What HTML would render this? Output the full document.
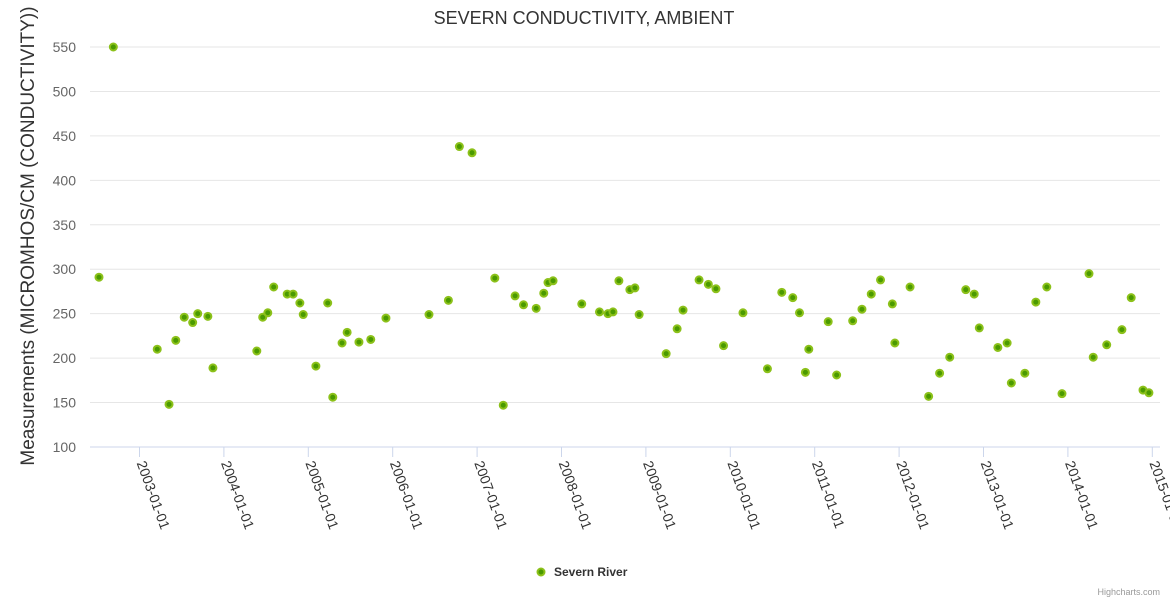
<!DOCTYPE html>
<html><head><meta charset="utf-8"><style>
body{margin:0;background:#fff;font-family:"Liberation Sans",sans-serif}
svg{display:block}
</style></head><body>
<svg id="chart" width="1170" height="600">
<rect width="1170" height="600" fill="#fff"/>
<text x="584" y="24" text-anchor="middle" font-size="18" fill="#333">SEVERN CONDUCTIVITY, AMBIENT</text>
<text transform="translate(34,236) rotate(-90)" text-anchor="middle" font-size="19" fill="#333">Measurements (MICROMHOS/CM (CONDUCTIVITY))</text>
<g id="grid"></g><g id="xaxis"></g><g id="pts"></g>
<g>
<circle cx="541" cy="572" r="3.5" fill="#4a9a00" stroke="#8cc11a" stroke-width="2"/>
<text x="554" y="576" font-size="12" font-weight="bold" fill="#333">Severn River</text>
</g>
<text x="1160" y="595" text-anchor="end" font-size="9" fill="#999">Highcharts.com</text>
</svg>
<script>
const yTicks=[100,150,200,250,300,350,400,450,500,550];
const xTickYears=[2003,2004,2005,2006,2007,2008,2009,2010,2011,2012,2013,2014,2015];
const dates=[2002.52,2002.69,2003.21,2003.35,2003.43,2003.53,2003.63,2003.69,2003.81,2003.87,2004.39,2004.46,2004.52,2004.59,2004.75,2004.82,2004.90,2004.94,2005.09,2005.23,2005.29,2005.40,2005.46,2005.60,2005.74,2005.92,2006.43,2006.66,2006.79,2006.94,2007.21,2007.31,2007.45,2007.55,2007.70,2007.79,2007.84,2007.90,2008.24,2008.45,2008.55,2008.61,2008.68,2008.81,2008.87,2008.92,2009.24,2009.37,2009.44,2009.63,2009.74,2009.83,2009.92,2010.15,2010.44,2010.61,2010.74,2010.82,2010.89,2010.93,2011.16,2011.26,2011.45,2011.56,2011.67,2011.78,2011.92,2011.95,2012.13,2012.35,2012.48,2012.60,2012.79,2012.89,2012.95,2013.17,2013.28,2013.33,2013.49,2013.62,2013.75,2013.93,2014.25,2014.30,2014.46,2014.64,2014.75,2014.89,2014.96];
const values=[291,550,210,148,220,246,240,250,247,189,208,246,251,280,272,272,262,249,191,262,156,217,229,218,221,245,249,265,438,431,290,147,270,260,256,273,285,287,261,252,250,252,287,277,279,249,205,233,254,288,283,278,214,251,188,274,268,251,184,210,241,181,242,255,272,288,261,217,280,157,183,201,277,272,234,212,217,172,183,263,280,160,295,201,215,232,268,164,161];
const NS='http://www.w3.org/2000/svg';
const X0=90,X1=1160;
function xS(t){return 139.5+(t-2003)*84.4;}
function yS(v){return 447-(v-100)*(400/450);}
function mk(tag,attrs,parent){const e=document.createElementNS(NS,tag);for(const k in attrs)e.setAttribute(k,attrs[k]);parent.appendChild(e);return e;}
const grid=document.getElementById('grid'),xa=document.getElementById('xaxis'),pts=document.getElementById('pts');
yTicks.forEach(v=>{
  if(v>100){const l=mk('line',{x1:X0,x2:X1,y1:yS(v),y2:yS(v),stroke:'#e6e6e6'},grid);
  
  }
  const t=mk('text',{x:76,y:yS(v)+5,'text-anchor':'end','font-size':14,fill:'#666'},grid);
  t.textContent=v;
  
  
});
const ax=mk('line',{x1:X0,x2:X1,y1:447,y2:447,stroke:'#ccd6eb'},xa);


xTickYears.forEach(y=>{
  const x=xS(y);
  const tk=mk('line',{x1:x,x2:x,y1:447,y2:457,stroke:'#ccd6eb'},xa);
  
  
  const t=mk('text',{transform:`translate(${x-3},${463}) rotate(70)`,'font-size':14,fill:'#333'},xa);
  t.textContent=y+'-01-01';
  
  
});
dates.forEach((d,i)=>{
  const c=mk('circle',{cx:xS(d),cy:yS(values[i]),r:3.5,fill:'#4a9a00',stroke:'#8cc11a','stroke-width':2},pts);
  
  
});
</script>
</body></html>
